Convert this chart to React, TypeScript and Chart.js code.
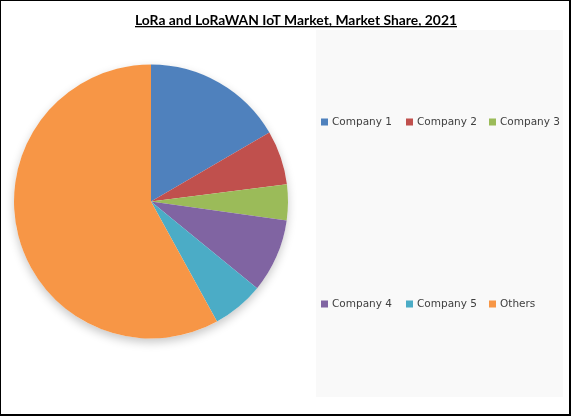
import React, { useEffect, useRef } from "react";
import { Chart, registerables } from "chart.js";

Chart.register(...registerables);

// ---- data ----
const categories = ["Company 1", "Company 2", "Company 3", "Company 4", "Company 5", "Others"];
const shares = [16.6, 6.4, 4.2, 8.7, 6.1, 58.0];
const colors = ["#4F81BD", "#C0504D", "#9BBB59", "#8064A2", "#4BACC6", "#F79646"];
const titleText = "LoRa and LoRaWAN IoT Market, Market Share, 2021";

// ---- layout (legend arrangement) ----
const legendRows = [
  [0, 1, 2],
  [3, 4, 5],
];
const legendRowY = [122, 304];
const legendColX = [321, 406, 489];

const decorPlugin = {
  id: "decor",
  beforeDraw(chart: any) {
    const ctx = chart.ctx as CanvasRenderingContext2D;
    ctx.save();
    ctx.fillStyle = "#ffffff";
    ctx.fillRect(0, 0, chart.width, chart.height);
    // legend panel
    ctx.fillStyle = "#f9f9f9";
    ctx.fillRect(316, 30, 247, 367);

    // title
    ctx.font = "bold 14px Lato, 'Liberation Sans', sans-serif";
    ctx.fillStyle = "#000000";
    ctx.textBaseline = "alphabetic";
    const w = ctx.measureText(titleText).width;
    const target = 322;
    const sx = target / w;
    const cx = 296;
    ctx.save();
    ctx.translate(cx - target / 2, 24.5);
    ctx.scale(sx, 1);
    ctx.textAlign = "left";
    ctx.fillText(titleText, 0, 0);
    ctx.restore();
    ctx.fillRect(cx - target / 2, 26, target, 1.3);

    // legend items
    ctx.font = "10.5px 'DejaVu Sans', Verdana, sans-serif";
    ctx.textBaseline = "middle";
    ctx.textAlign = "left";
    legendRows.forEach((row, r) => {
      row.forEach((idx, k) => {
        const x = legendColX[k];
        const y = legendRowY[r];
        ctx.fillStyle = colors[idx];
        ctx.fillRect(x, y - 3.5, 7, 7);
        ctx.fillStyle = "#404040";
        ctx.fillText(categories[idx], x + 11, y + 0.5);
      });
    });
    ctx.restore();
  },
  beforeDatasetsDraw(chart: any) {
    const meta = chart.getDatasetMeta(0);
    const arc = meta.data[0];
    if (!arc) return;
    const ctx = chart.ctx as CanvasRenderingContext2D;
    ctx.save();
    ctx.shadowColor = "rgba(0,0,0,0.22)";
    ctx.shadowBlur = 10;
    ctx.shadowOffsetY = 4;
    ctx.fillStyle = "#ffffff";
    ctx.beginPath();
    ctx.arc(arc.x, arc.y, arc.outerRadius, 0, Math.PI * 2);
    ctx.fill();
    ctx.restore();
  },
};

export default function App() {
  const ref = useRef<HTMLCanvasElement | null>(null);
  useEffect(() => {
    if (!ref.current) return;
    const chart = new Chart(ref.current, {
      type: "pie",
      data: {
        labels: categories,
        datasets: [
          {
            data: shares,
            backgroundColor: colors,
            borderWidth: 0,
            hoverOffset: 0,
            offset: 0,
          },
        ],
      },
      options: {
        responsive: false,
        maintainAspectRatio: false,
        devicePixelRatio: 1,
        animation: false,
        layout: { padding: { left: 14, right: 283, top: 64, bottom: 77 } },
        plugins: {
          legend: { display: false },
          title: { display: false },
          tooltip: { enabled: false },
        },
      },
      plugins: [decorPlugin],
    });
    return () => chart.destroy();
  }, []);

  return (
    <div style={{ position: "fixed", left: 0, top: 0, width: 571, height: 416 }}>
      <canvas ref={ref} width={571} height={416} style={{ position: "absolute", left: 0, top: 0, width: 571, height: 416 }} />
      <div
        style={{
          position: "absolute",
          left: 0,
          top: 0,
          width: 571,
          height: 416,
          boxSizing: "border-box",
          borderStyle: "solid",
          borderColor: "#000",
          borderWidth: "1px 2px 2px 1px",
          pointerEvents: "none",
        }}
      />
    </div>
  );
}
